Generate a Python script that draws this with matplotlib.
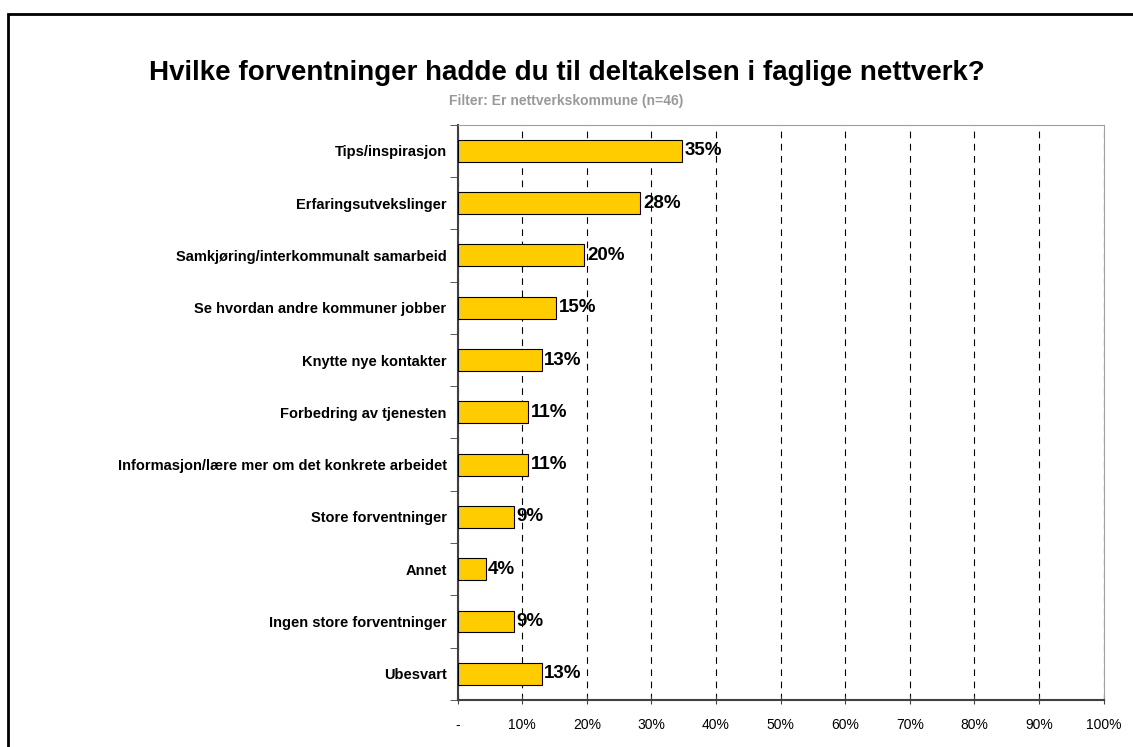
import matplotlib.pyplot as plt
import matplotlib.patches as mpatches
import numpy as np

plt.rcParams['font.family'] = ['Liberation Sans', 'DejaVu Sans']

# Data (andel av n=46)
kategorier = ['Tips/inspirasjon', 'Erfaringsutvekslinger', 'Samkjøring/interkommunalt samarbeid',
              'Se hvordan andre kommuner jobber', 'Knytte nye kontakter', 'Forbedring av tjenesten',
              'Informasjon/lære mer om det konkrete arbeidet', 'Store forventninger', 'Annet',
              'Ingen store forventninger', 'Ubesvart']
andel = [0.348, 0.283, 0.196, 0.152, 0.130, 0.109, 0.109, 0.087, 0.043, 0.087, 0.130]
etiketter = ['35%', '28%', '20%', '15%', '13%', '11%', '11%', '9%', '4%', '9%', '13%']
xticks_lab = ['-', '10%', '20%', '30%', '40%', '50%', '60%', '70%', '80%', '90%', '100%']

fig = plt.figure(figsize=(11.33, 7.47), dpi=100)
ax = fig.add_axes([0.404, 0.063, 0.570, 0.770])

y = np.arange(len(kategorier))
ax.barh(y, andel, height=0.42, color='#FFCC00', edgecolor='black', linewidth=0.8, zorder=3)

for yi, v, lab in zip(y, andel, etiketter):
    ax.text(v + 0.004, yi, lab, va='center', ha='left', fontsize=13.5, fontweight='bold', zorder=4)

ax.set_xlim(0, 1)
ax.set_ylim(len(kategorier) - 0.5, -0.5)
ax.set_xticks(np.arange(0, 1.01, 0.1))
ax.set_xticklabels(xticks_lab, fontsize=10)
ax.set_yticks(y)
ax.set_yticklabels(kategorier, fontsize=10.5, fontweight='bold')
ax.tick_params(axis='y', length=0, pad=8)
ax.set_yticks(np.arange(-0.5, len(kategorier), 1), minor=True)
ax.tick_params(axis='y', which='minor', length=6, direction='out', color='#404040')
ax.tick_params(axis='x', length=6, direction='inout', color='#404040', pad=10)

ax.xaxis.grid(True, linestyle=(0, (6, 5)), color='black', linewidth=0.8, zorder=0)
for s in ['top', 'right']:
    ax.spines[s].set_color('#a0a0a0')
for s in ['left', 'bottom']:
    ax.spines[s].set_color('#404040')
    ax.spines[s].set_linewidth(1.5)

fig.text(0.5, 0.902, 'Hvilke forventninger hadde du til deltakelsen i faglige nettverk?',
         ha='center', va='center', fontsize=20, fontweight='bold')
fig.text(0.5, 0.865, 'Filter: Er nettverkskommune (n=46)', ha='center', va='center',
         fontsize=10, fontweight='bold', color='#999999')

# ramme rundt figuren
fig.patches.append(mpatches.Rectangle((8 / 1133, -0.1), 1.2, 1 - 14 / 747 + 0.1,
                                      transform=fig.transFigure, fill=False,
                                      edgecolor='black', linewidth=2))

fig.savefig('out.png', dpi=100)
